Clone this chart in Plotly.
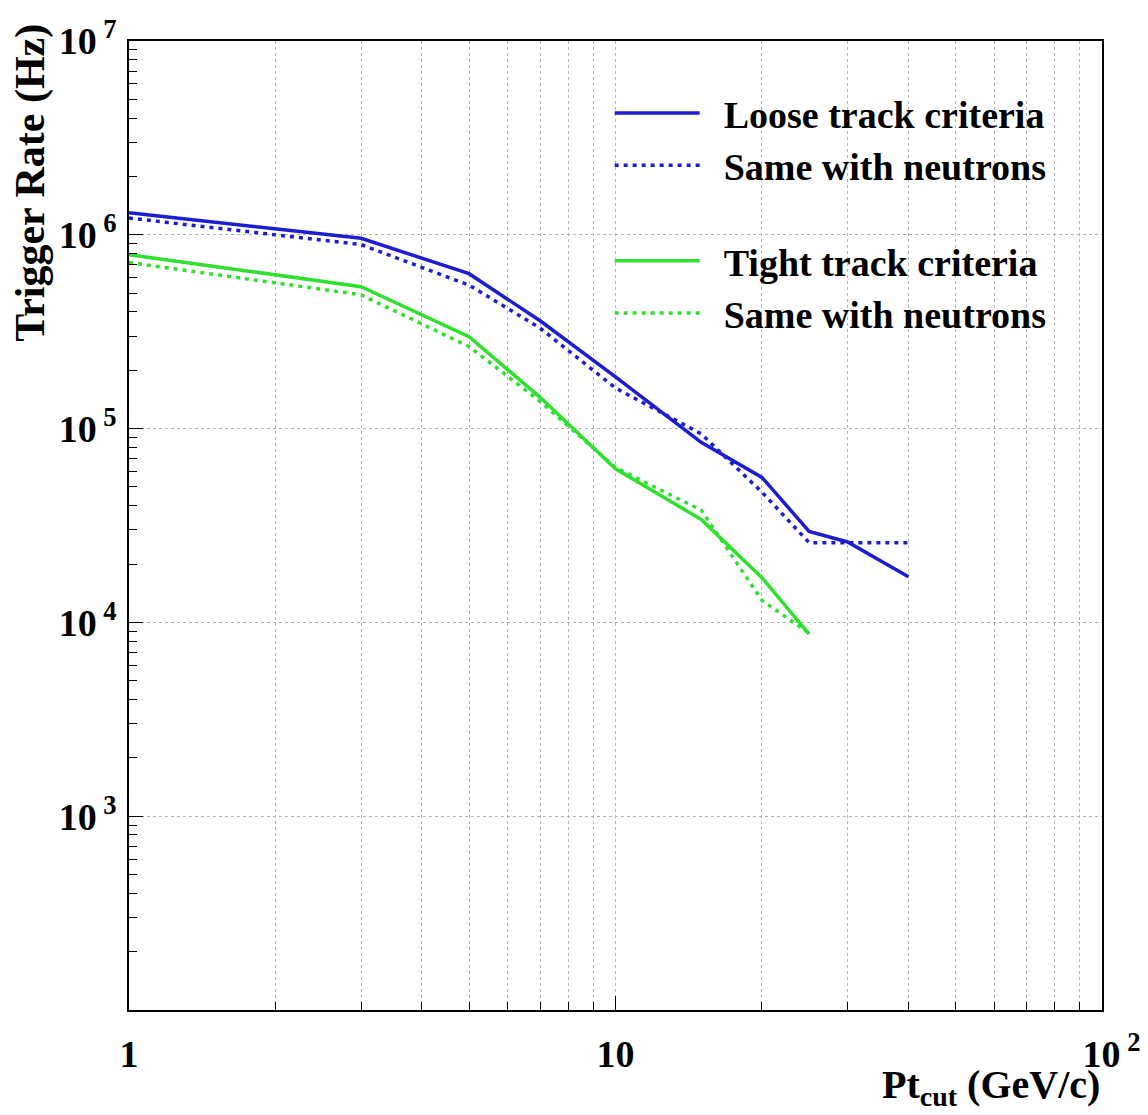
import plotly.graph_objects as go

# Data
pt_loose = [1, 3, 5, 7, 10, 15, 20, 25, 30, 40]
rate_loose = [1.30e6, 9.6e5, 6.3e5, 3.6e5, 1.85e5, 8.5e4, 5.6e4, 2.95e4, 2.6e4, 1.72e4]
rate_loose_n = [1.22e6, 8.9e5, 5.5e5, 3.3e5, 1.62e5, 9.4e4, 4.7e4, 2.58e4, 2.58e4, 2.58e4]

pt_tight = [1, 3, 5, 7, 10, 15, 20, 25]
rate_tight = [7.9e5, 5.4e5, 2.98e5, 1.45e5, 6.2e4, 3.4e4, 1.7e4, 8.7e3]
rate_tight_n = [7.2e5, 4.9e5, 2.65e5, 1.38e5, 6.3e4, 3.8e4, 1.3e4, 8.8e3]

x_tickvals = [1, 10, 100]
x_ticktext = ["1", "10", "\u00a0\u00a010<sup> 2</sup>"]
y_tickvals = [1e3, 1e4, 1e5, 1e6, 1e7]
y_ticktext = ["10<sup> 3</sup>", "10<sup> 4</sup>", "10<sup> 5</sup>", "10<sup> 6</sup>", "10<sup> 7</sup>"]

BLUE = "#1c1cd2"
GREEN = "#2fe02f"
FONT = "Liberation Serif"
NB = "\u00a0\u00a0"

fig = go.Figure()
fig.add_trace(go.Scatter(x=pt_loose, y=rate_loose, mode="lines", name=NB + "Loose track criteria",
                         line=dict(color=BLUE, width=3.5), legendgroup="a"))
fig.add_trace(go.Scatter(x=pt_loose, y=rate_loose_n, mode="lines", name=NB + "Same with neutrons",
                         line=dict(color=BLUE, width=3.5, dash="4px,5px"), legendgroup="a"))
fig.add_trace(go.Scatter(x=pt_tight, y=rate_tight, mode="lines", name=NB + "Tight track criteria",
                         line=dict(color=GREEN, width=3.5), legendgroup="b"))
fig.add_trace(go.Scatter(x=pt_tight, y=rate_tight_n, mode="lines", name=NB + "Same with neutrons",
                         line=dict(color=GREEN, width=3.5, dash="4px,5px"), legendgroup="b"))

fig.update_layout(
    width=1140, height=1107,
    margin=dict(l=121, r=46, t=33, b=105),
    paper_bgcolor="white", plot_bgcolor="white",
    font=dict(family=FONT, color="black"),
    showlegend=True,
    legend=dict(x=0.494, y=0.958, xanchor="left", yanchor="top",
                font=dict(family=FONT, size=38, weight="bold", color="black"),
                bgcolor="rgba(0,0,0,0)", tracegroupgap=43, itemwidth=85,
                traceorder="grouped"),
)

fig.update_xaxes(
    type="log", range=[0, 2], automargin=False,
    showline=True, linecolor="black", linewidth=1.5, mirror=True,
    tickvals=x_tickvals, ticktext=x_ticktext,
    ticks="inside", ticklen=14, tickcolor="black",
    tickfont=dict(family=FONT, size=38, weight="bold", color="black"),
    ticklabelstandoff=10,
    showgrid=True, gridcolor="#b4b4b4", griddash="dot", gridwidth=1,
    minor=dict(dtick="D1", ticks="inside", ticklen=8, tickcolor="black",
               showgrid=True, gridcolor="#b4b4b4", griddash="dot", gridwidth=1),
    zeroline=False,
)
fig.update_yaxes(
    type="log", range=[2, 7], automargin=False,
    showline=True, linecolor="black", linewidth=1.5, mirror=True,
    tickvals=y_tickvals, ticktext=y_ticktext,
    ticks="inside", ticklen=14, tickcolor="black",
    tickfont=dict(family=FONT, size=38, weight="bold", color="black"),
    ticklabelstandoff=3,
    showgrid=True, gridcolor="#b4b4b4", griddash="dot", gridwidth=1,
    minor=dict(dtick="D1", ticks="inside", ticklen=8, tickcolor="black", showgrid=False),
    zeroline=False,
)

fig.add_annotation(text="Trigger Rate (Hz)", textangle=-90, xref="paper", yref="paper",
                   x=-0.102, y=1.0196, xanchor="center", yanchor="top", showarrow=False,
                   font=dict(family=FONT, size=42, weight="bold", color="black"))
fig.add_annotation(text="Pt<sub>cut</sub> (GeV/c)", xref="paper", yref="paper",
                   x=1.0, y=-0.052, xanchor="right", yanchor="top", showarrow=False,
                   font=dict(family=FONT, size=40, weight="bold", color="black"))

fig.write_html("out.html")
